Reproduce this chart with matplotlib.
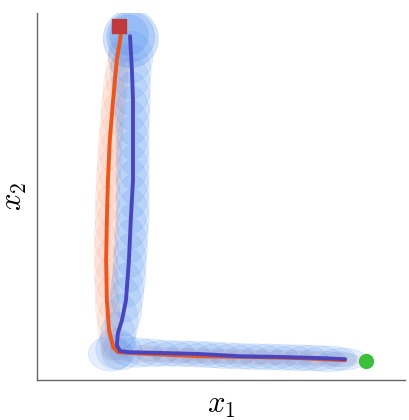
import matplotlib
matplotlib.use('Agg')
import matplotlib.pyplot as plt
from matplotlib.patches import Ellipse

plt.rcParams['mathtext.fontset'] = 'cm'

# mean trajectories
blue_x = [8.37, 7.69, 6.60, 5.52, 4.43, 3.34, 2.53, 2.26, 2.17, 2.20, 2.31, 2.42, 2.50, 2.55, 2.61, 2.61, 2.61, 2.58, 2.55, 2.53]
blue_y = [0.57, 0.60, 0.63, 0.65, 0.71, 0.74, 0.76, 0.79, 0.95, 1.28, 1.63, 2.18, 3.27, 4.36, 5.45, 6.54, 7.63, 8.45, 8.99, 9.37]
orange_x = [8.37, 7.15, 5.79, 4.43, 3.07, 2.20, 2.07, 1.96, 1.90, 1.88, 1.90, 1.93, 1.98, 2.07, 2.17, 2.28]
orange_y = [0.54, 0.60, 0.63, 0.65, 0.71, 0.76, 0.90, 1.36, 2.18, 3.27, 4.36, 5.45, 6.54, 7.63, 8.72, 9.40]

# blue uncertainty ellipses (centre, width, height)
blue_ex = [8.3, 8.2, 7.9, 7.5, 7.1, 6.7, 6.3, 5.9, 5.5, 5.1, 4.7, 4.3, 3.9, 3.5, 3.1, 2.7,
           2.3, 2.0, 2.15, 2.2, 2.3, 2.4, 2.45, 2.5, 2.52, 2.55, 2.57, 2.6, 2.6, 2.6, 2.6,
           2.6, 2.6, 2.6, 2.59, 2.58, 2.56, 2.55, 2.55]
blue_ey = [0.57, 0.57, 0.58, 0.6, 0.61, 0.62, 0.63, 0.64, 0.65, 0.67, 0.69, 0.71, 0.72, 0.73, 0.74, 0.75,
           0.78, 0.72, 0.85, 1.2, 1.6, 2.0, 2.4, 2.8, 3.2, 3.6, 4.0, 4.4, 4.8, 5.2, 5.6,
           6.0, 6.4, 6.8, 7.2, 7.6, 8.0, 8.4, 8.8]
blue_ew = [1.3, 0.9, 1.6, 1.6, 1.6, 1.6, 1.6, 1.6, 1.6, 1.6, 1.6, 1.6, 1.6, 1.6, 1.5, 1.4,
           1.1, 1.2, 1.1, 0.95, 0.9, 0.9, 0.9, 0.9, 0.9, 0.9, 0.9, 0.9, 0.9, 0.9, 0.9,
           0.9, 0.9, 0.9, 0.95, 1.0, 1.05, 1.1, 1.2]
blue_eh = [0.6, 0.4, 0.7, 0.7, 0.7, 0.7, 0.7, 0.7, 0.7, 0.7, 0.7, 0.7, 0.7, 0.7, 0.75, 0.8,
           1.0, 0.95, 1.1, 1.3, 1.5, 1.6, 1.6, 1.6, 1.6, 1.6, 1.6, 1.6, 1.6, 1.6, 1.6,
           1.6, 1.6, 1.6, 1.6, 1.6, 1.6, 1.5, 1.4]
blue_top = [(2.55, 9.3, 1.5), (2.55, 9.35, 1.3), (2.5, 9.4, 1.05)]

# orange uncertainty ellipses
orange_ex = [8.3, 7.8, 7.3, 6.8, 6.3, 5.8, 5.3, 4.8, 4.3, 3.8, 3.3, 2.8,
             2.2, 2.05, 1.97, 1.92, 1.9, 1.88, 1.88, 1.89, 1.9, 1.92, 1.94, 1.97,
             2.0, 2.04, 2.08, 2.13, 2.18, 2.23]
orange_ey = [0.55, 0.58, 0.6, 0.61, 0.62, 0.63, 0.64, 0.65, 0.66, 0.68, 0.7, 0.72,
             0.76, 1.0, 1.5, 2.0, 2.5, 3.0, 3.5, 4.0, 4.5, 5.0, 5.5, 6.0,
             6.5, 7.0, 7.5, 8.0, 8.5, 9.0]
orange_ew = [1.0, 1.3, 1.3, 1.3, 1.3, 1.3, 1.3, 1.3, 1.3, 1.3, 1.3, 1.2,
             0.8, 0.7, 0.65, 0.65, 0.65, 0.65, 0.65, 0.65, 0.65, 0.65, 0.65, 0.65,
             0.65, 0.65, 0.65, 0.65, 0.6, 0.55]
orange_eh = [0.35, 0.4, 0.4, 0.4, 0.4, 0.4, 0.4, 0.4, 0.4, 0.4, 0.4, 0.45,
             0.6, 0.9, 1.4, 1.6, 1.6, 1.6, 1.6, 1.6, 1.6, 1.6, 1.6, 1.6,
             1.6, 1.6, 1.6, 1.6, 1.5, 1.3]
orange_ang = [0, 0, 0, 0, 0, 0, 0, 0, 0, 0, 0, 0,
              0, 2, 3, 2, 1, 0, 0, -1, -1, -2, -2, -3,
              -4, -4, -5, -6, -7, -8]

start = (8.94, 0.52)
goal = (2.23, 9.65)

fig = plt.figure(figsize=(4.1, 4.2), dpi=100)
ax = fig.add_axes([0.09, 0.095, 0.898, 0.874])

for x, y, w, h, a in zip(orange_ex, orange_ey, orange_ew, orange_eh, orange_ang):
    ax.add_patch(Ellipse((x, y), w, h, angle=a, facecolor=(0.97, 0.50, 0.35, 0.11),
                         edgecolor=(0.97, 0.50, 0.35, 0.13), lw=0.6, zorder=1))
for x, y, w, h in zip(blue_ex, blue_ey, blue_ew, blue_eh):
    ax.add_patch(Ellipse((x, y), w, h, facecolor=(0.30, 0.56, 0.95, 0.15),
                         edgecolor=(0.30, 0.56, 0.95, 0.15), lw=0.6, zorder=2))
for x, y, d in blue_top:
    ax.add_patch(Ellipse((x, y), d, d * 1.05, facecolor=(0.30, 0.56, 0.95, 0.25),
                         edgecolor=(0.30, 0.56, 0.95, 0.2), lw=0.6, zorder=2))

ax.plot(orange_x, orange_y, color='#ec561c', lw=2.8, zorder=3, solid_capstyle='round')
ax.plot(blue_x, blue_y, color='#4a45bd', lw=2.8, zorder=4, solid_capstyle='round')
ax.plot(*start, 'o', color='#3cbf3a', ms=10, zorder=5)
ax.plot(*goal, 's', color='#c0393b', ms=10, zorder=5)

ax.set_xlim(0, 10)
ax.set_ylim(0, 10)
ax.set_xticks([])
ax.set_yticks([])
for s in ['top', 'right']:
    ax.spines[s].set_visible(False)
for s in ['left', 'bottom']:
    ax.spines[s].set_color('#666666')
    ax.spines[s].set_linewidth(1)

ax.set_xlabel(r'$x_1$', fontsize=22, labelpad=8)
ax.set_ylabel(r'$x_2$', fontsize=22, labelpad=6)

fig.savefig('out.png', dpi=100)
